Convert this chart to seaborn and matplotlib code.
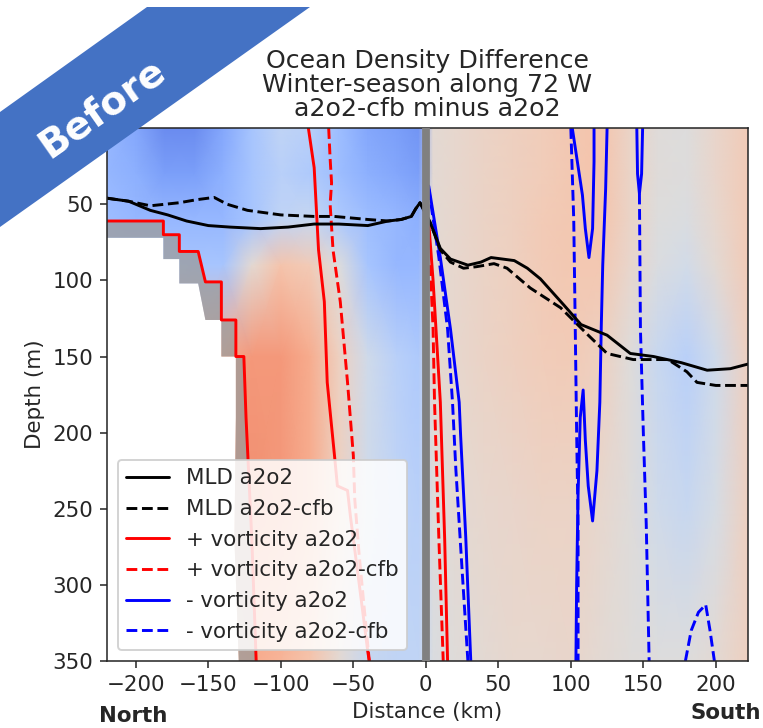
import numpy as np
import matplotlib
matplotlib.use("Agg")
import matplotlib.pyplot as plt
from matplotlib.lines import Line2D
from matplotlib.patches import Polygon
import seaborn as sns

# ─── Data: density difference field (a2o2-cfb minus a2o2) ────────────────────
grid_dist = [-220, -200, -180, -160, -140, -120, -100, -80, -60, -40, -20, -5,
             5, 20, 40, 60, 80, 100, 120, 140, 160, 180, 200, 222]
grid_depth = [0, 30, 60, 90, 150, 250, 350]

rho_0m = [-0.45, -0.55, -0.7, -0.7, -0.55, -0.35, -0.2, -0.25, -0.4, -0.55, -0.6, -0.65,
          0.05, 0.08, 0.12, 0.15, 0.18, 0.22, 0.25, 0.12, 0.02, 0.0, 0.1, 0.2]
rho_30m = [-0.45, -0.5, -0.6, -0.6, -0.5, -0.35, -0.25, -0.3, -0.4, -0.5, -0.55, -0.6,
           0.05, 0.08, 0.12, 0.15, 0.18, 0.22, 0.25, 0.12, 0.02, 0.0, 0.1, 0.2]
rho_60m = [-0.4, -0.45, -0.45, -0.45, -0.45, -0.35, -0.2, -0.15, -0.3, -0.4, -0.45, -0.5,
           0.05, 0.08, 0.12, 0.15, 0.2, 0.22, 0.25, 0.12, 0.0, -0.02, 0.08, 0.2]
rho_90m = [-0.3, -0.3, -0.3, -0.35, -0.35, 0.05, 0.25, 0.2, 0.0, -0.35, -0.45, -0.45,
           0.05, 0.08, 0.12, 0.15, 0.2, 0.22, 0.22, 0.1, -0.02, -0.08, 0.05, 0.2]
rho_150m = [0.3, 0.3, 0.3, 0.3, 0.4, 0.5, 0.5, 0.4, 0.15, -0.1, -0.25, -0.3,
            0.05, 0.08, 0.12, 0.15, 0.18, 0.2, 0.15, 0.02, -0.15, -0.25, -0.1, 0.15]
rho_250m = [0.4, 0.4, 0.4, 0.45, 0.5, 0.55, 0.5, 0.4, 0.15, -0.1, -0.2, -0.25,
            0.0, 0.05, 0.08, 0.1, 0.12, 0.12, 0.08, 0.02, -0.1, -0.15, -0.05, 0.15]
rho_350m = [0.3, 0.3, 0.3, 0.3, 0.35, 0.4, 0.35, 0.25, 0.05, -0.15, -0.2, -0.2,
            -0.02, 0.02, 0.05, 0.08, 0.08, 0.1, 0.05, 0.02, 0.0, 0.0, 0.05, 0.15]

# ─── Data: bathymetry (shelf north of the front) ─────────────────────────────
shelf_dist = [-220, -181, -181, -170, -170, -157, -152, -141, -141, -131, -131, -125.5, -124, -120, -117]
shelf_depth = [61, 61, 70, 70, 81, 81, 101, 101, 126, 126, 150, 150, 190, 270, 350]
shadow_dist = [-220, -181, -181, -170, -170, -157, -152, -141, -141, -131, -131, -132, -129]
shadow_depth = [72, 72, 86, 86, 102, 102, 126, 126, 150, 150, 190, 270, 350]

# ─── Data: mixed layer depth ─────────────────────────────────────────────────
mld_dist = [-220, -205, -190, -178, -165, -150, -135, -114, -95, -77, -60, -40, -26, -17, -10, -7, -4,
            3, 10, 17, 29, 38, 45, 61, 70, 79, 95, 107, 125, 141, 157, 176, 194, 210, 222]
mld_depth = [46, 48, 54, 57, 61, 64, 65, 66, 65, 63, 63, 64, 61, 60, 58, 53, 49,
             62, 79, 86, 90, 88, 85, 87, 92, 99, 116, 129, 136, 148, 150, 154, 159, 158, 155]
mld_cfb_dist = [-220, -205, -190, -170, -158, -146, -137, -123, -100, -77, -63, -40, -26, -17, -10, -7, -4,
                3, 10, 17, 26, 35, 47, 56, 72, 93, 112, 125, 143, 167, 180, 187, 200, 222]
mld_cfb_depth = [46, 48, 51, 49, 47, 45.5, 50, 54, 57, 58, 58, 60, 61, 60, 58, 53, 49,
                 62, 80, 88, 92, 91, 89, 92, 105, 118, 136, 148, 152, 152, 160, 167, 169, 169]

# ─── Data: + vorticity contours ──────────────────────────────────────────────
pos_a_dist = [-81, -77, -74, -70, -68, -63, -61, -54, -52, -46, -40, -39]
pos_a_depth = [0, 26, 80, 114, 167, 215, 235, 238, 255, 299, 344, 350]
pos_b_dist = [2, 5, 7, 10, 13, 15]
pos_b_depth = [62, 100, 132, 180, 270, 350]
pos_cfb_a_dist = [-67, -66, -65, -66, -64, -59, -54, -50, -49, -46, -42, -39]
pos_cfb_a_depth = [0, 20, 36, 50, 80, 114, 167, 215, 244, 280, 320, 350]
pos_cfb_b_dist = [3, 5, 6, 9, 12]
pos_cfb_b_depth = [90, 132, 180, 270, 350]

# ─── Data: - vorticity contours ──────────────────────────────────────────────
neg_a_dist = [2, 10, 17, 23, 24, 27.5, 31]
neg_a_depth = [38, 85, 132, 180, 202, 268, 350]
neg_b_dist = [101, 104.5, 108, 110, 112.5, 115, 116, 116]
neg_b_depth = [0, 22, 44, 66, 85, 66, 22, 0]
neg_c_dist = [125, 124, 122, 121, 120, 118, 115, 112, 110, 108.5, 106.5, 105, 104, 103.5]
neg_c_depth = [0, 40, 90, 130, 180, 225, 258, 235, 205, 172, 190, 240, 300, 350]
neg_d_dist = [145.5, 146, 147.3, 148.8, 149.5]
neg_d_depth = [0, 30, 43, 30, 0]
neg_cfb_a_dist = [2, 9, 15, 18.4, 20.7, 25, 29]
neg_cfb_a_depth = [40, 85, 132, 180, 224, 290, 350]
neg_cfb_b_dist = [100, 102, 103, 104, 105, 105]
neg_cfb_b_depth = [0, 60, 128, 200, 260, 350]
neg_cfb_c_dist = [147.3, 148, 150, 152, 154]
neg_cfb_c_depth = [43, 132, 200, 260, 350]
neg_cfb_d_dist = [179, 183, 188, 193, 196, 199]
neg_cfb_d_depth = [350, 330, 318, 313, 330, 350]

xticks = [-200, -150, -100, -50, 0, 50, 100, 150, 200]
yticks = [50, 100, 150, 200, 250, 300, 350]

# ─── Figure ──────────────────────────────────────────────────────────────────
sns.set_style("ticks")
plt.rcParams["font.family"] = ["DejaVu Sans"]

fig = plt.figure(figsize=(763 / 140, 728 / 140), dpi=140)
ax = fig.add_axes([0.140, 0.092, 0.840, 0.732])

field = np.array([rho_0m, rho_30m, rho_60m, rho_90m, rho_150m, rho_250m, rho_350m])
ax.pcolormesh(grid_dist, grid_depth, field, cmap="coolwarm", vmin=-1, vmax=1,
              shading="gouraud", zorder=0)

# land below the shelf, with the grey interpolation shadow
land = list(zip(shadow_dist, shadow_depth)) + [(-220, 350)]
ax.add_patch(Polygon(land, closed=True, facecolor="white", edgecolor="none", zorder=1))
band = list(zip(shelf_dist, shelf_depth)) + list(zip(shadow_dist, shadow_depth))[::-1]
ax.add_patch(Polygon(band, closed=True, facecolor="#9a9a9a", edgecolor="none",
                     alpha=0.75, zorder=1))

def draw(xs, ys, color, ls):
    sns.lineplot(x=xs, y=ys, sort=False, estimator=None, color=color,
                 linestyle=ls, linewidth=1.5, ax=ax, zorder=2)

draw(shelf_dist, shelf_depth, "red", "-")
draw(pos_a_dist, pos_a_depth, "red", "-")
draw(pos_b_dist, pos_b_depth, "red", "-")
draw(pos_cfb_a_dist, pos_cfb_a_depth, "red", "--")
draw(pos_cfb_b_dist, pos_cfb_b_depth, "red", "--")

for xs, ys in [(neg_a_dist, neg_a_depth), (neg_b_dist, neg_b_depth),
               (neg_c_dist, neg_c_depth), (neg_d_dist, neg_d_depth)]:
    draw(xs, ys, "blue", "-")
for xs, ys in [(neg_cfb_a_dist, neg_cfb_a_depth), (neg_cfb_b_dist, neg_cfb_b_depth),
               (neg_cfb_c_dist, neg_cfb_c_depth), (neg_cfb_d_dist, neg_cfb_d_depth)]:
    draw(xs, ys, "blue", "--")

draw(mld_dist, mld_depth, "black", "-")
draw(mld_cfb_dist, mld_cfb_depth, "black", "--")

ax.axvline(0, color="gray", linewidth=4, zorder=3)

ax.set_xlim(-220, 222)
ax.set_ylim(350, 0)
ax.set_xticks(xticks)
ax.set_yticks(yticks)
ax.tick_params(labelsize=11)
ax.set_xlabel("Distance (km)", fontsize=11)
ax.set_ylabel("Depth (m)", fontsize=11)
ax.set_title("Ocean Density Difference\nWinter-season along 72 W\na2o2-cfb minus a2o2",
             fontsize=13, linespacing=1.0)
ax.text(-0.012, -0.103, "North", transform=ax.transAxes, ha="left", va="center",
        fontsize=11, fontweight="bold")
ax.text(1.02, -0.097, "South", transform=ax.transAxes, ha="right", va="center",
        fontsize=11, fontweight="bold")

handles = [
    Line2D([], [], color="black", ls="-", lw=1.5),
    Line2D([], [], color="black", ls="--", lw=1.5),
    Line2D([], [], color="red", ls="-", lw=1.5),
    Line2D([], [], color="red", ls="--", lw=1.5),
    Line2D([], [], color="blue", ls="-", lw=1.5),
    Line2D([], [], color="blue", ls="--", lw=1.5),
]
labels = ["MLD a2o2", "MLD a2o2-cfb", "+ vorticity a2o2", "+ vorticity a2o2-cfb",
          "- vorticity a2o2", "- vorticity a2o2-cfb"]
leg = ax.legend(handles, labels, loc="lower left", fontsize=11, framealpha=0.85)
leg.set_zorder(5)

# "Before" ribbon across the top-left corner
over = fig.add_axes([0, 0, 1, 1], zorder=10)
over.set_xlim(0, 763)
over.set_ylim(728, 0)
over.axis("off")
over.patch.set_alpha(0)
over.add_patch(Polygon([(147, 7), (310, 7), (0, 227), (0, 112)], closed=True,
                       facecolor="#4472C4", edgecolor="none"))
over.text(102, 108, "Before", color="white", fontsize=20, fontweight="bold",
          rotation=35, ha="center", va="center")

fig.savefig("out.png", dpi=140)
